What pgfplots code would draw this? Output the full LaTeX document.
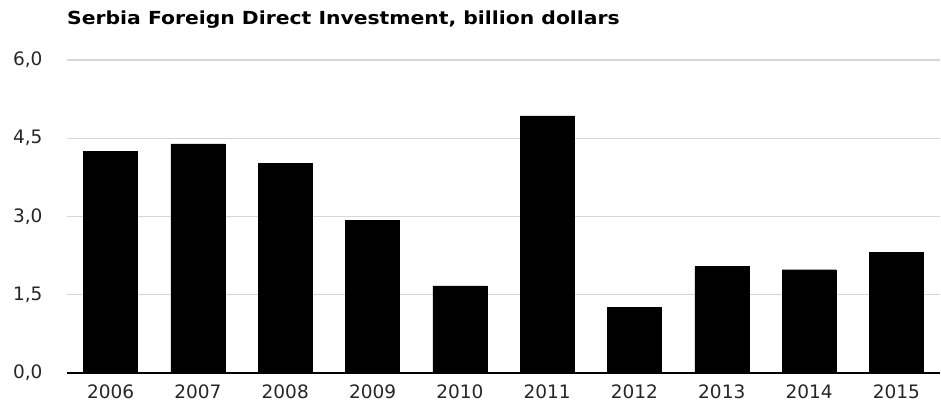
\documentclass[border=0pt]{standalone}
\usepackage{pgfplots}
\pgfplotsset{compat=1.18}
\usepackage{fontspec}
\setmainfont{DejaVu Sans}
\newfontfamily\titlefont[FakeStretch=1.13]{DejaVu Sans Bold}

\begin{document}
\begin{tikzpicture}[x=1pt,y=1pt]
    \useasboundingbox (0,0) rectangle (941,406);
    \node[anchor=base west, inner sep=0pt, font=\titlefont\fontsize{18}{20}\selectfont]
        at (67,381) {Serbia Foreign Direct Investment, billion dollars};
    \begin{axis}[
        at={(67pt,33pt)}, anchor=south west,
        scale only axis,
        width=873pt, height=313pt,
        xmin=-0.5, xmax=9.5,
        ymin=0, ymax=6,
        ytick={0,1.5,3,4.5,6},
        xtick=data,
        xticklabels={2006,2007,2008,2009,2010,2011,2012,2013,2014,2015},
        axis x line*=bottom,
        axis y line*=left,
        x axis line style={black, line width=1.4pt, -},
        y axis line style={draw=none},
        major tick length=0pt,
        ymajorgrids,
        grid style={line width=1.4pt, black!16},
        tick label style={font=\fontsize{18.5}{20}\selectfont, text=black!85},
        yticklabel style={xshift=-21pt},
        xticklabel style={yshift=-8pt},
        /pgf/number format/.cd, use comma, fixed, fixed zerofill, precision=1, assume math mode=true,
    ]
    \addplot[ybar, bar width=54pt, fill=black, draw=black] coordinates {
        (0,4.25) (1,4.39) (2,4.02) (3,2.92) (4,1.67)
        (5,4.93) (6,1.26) (7,2.04) (8,1.98) (9,2.31)
    };
    \end{axis}
\end{tikzpicture}
\end{document}
